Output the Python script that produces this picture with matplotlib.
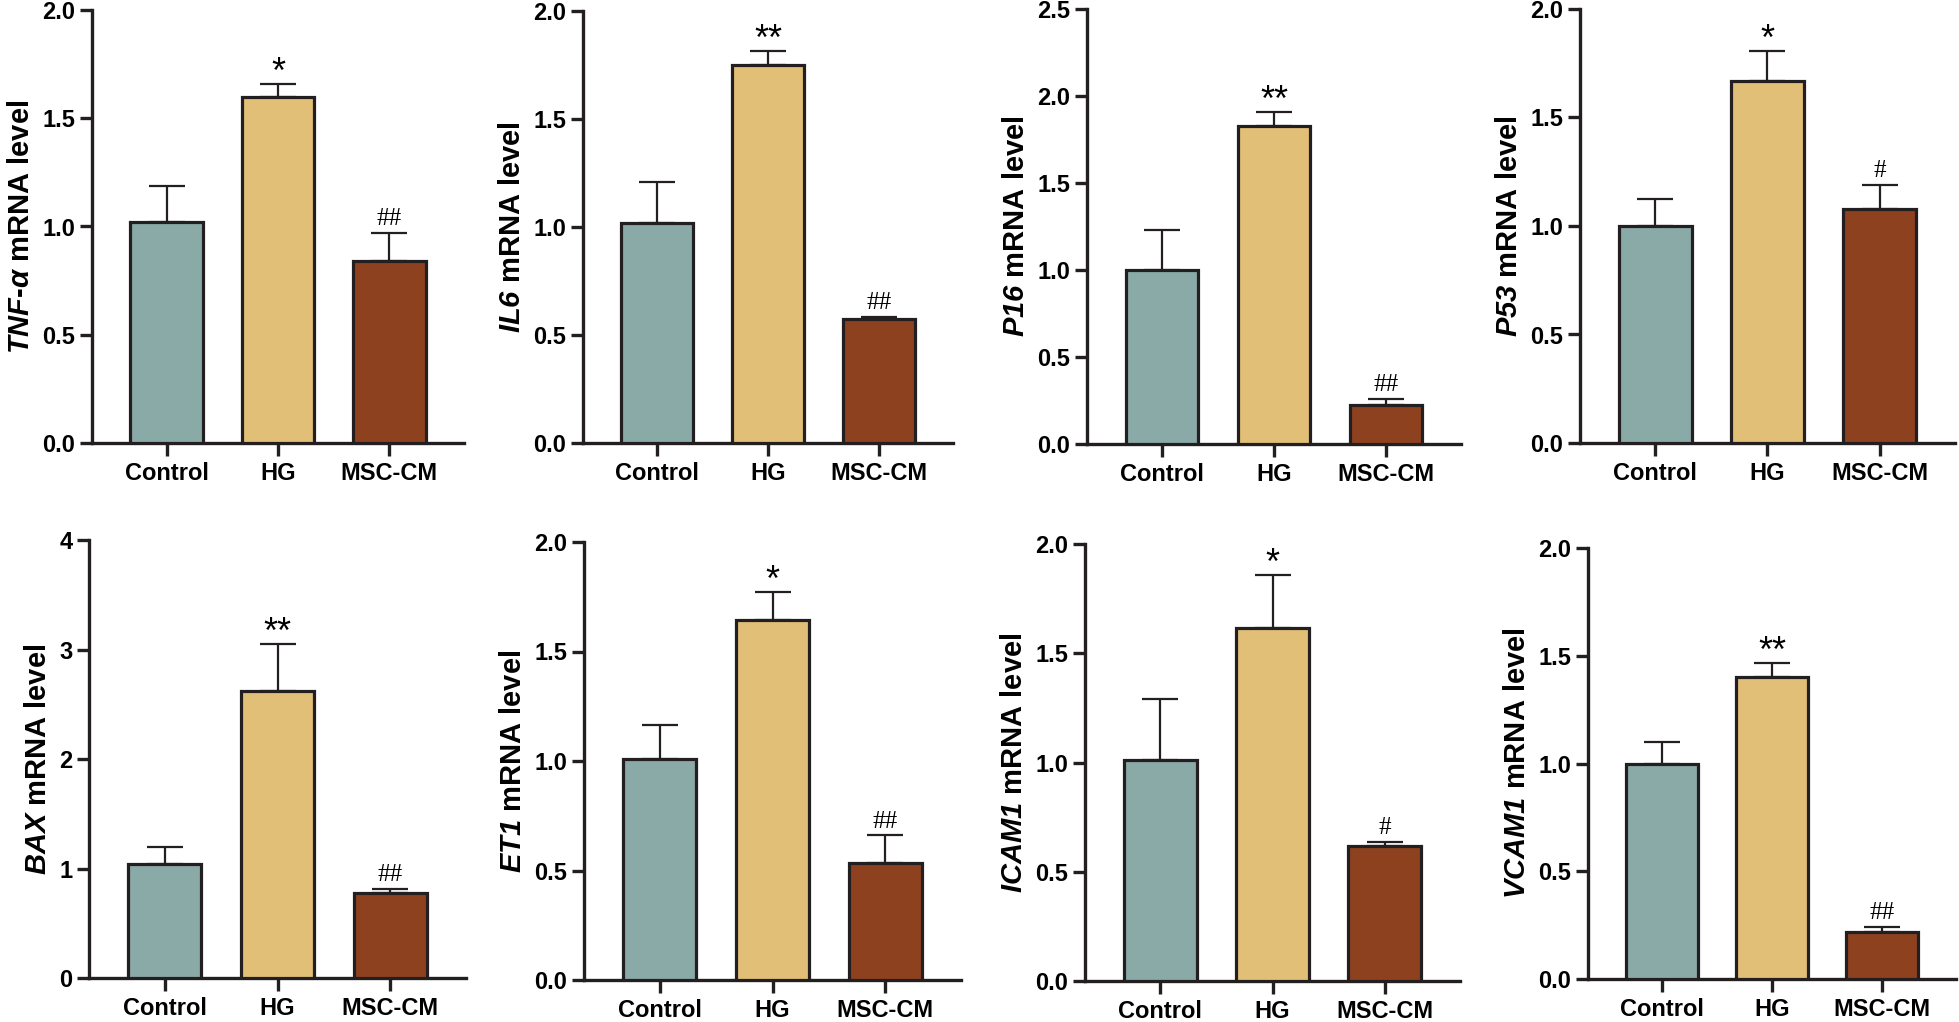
import matplotlib
matplotlib.use("Agg")
import matplotlib.pyplot as plt
from matplotlib.ticker import MultipleLocator, FormatStrFormatter

plt.rcParams['font.family'] = ['Liberation Sans', 'DejaVu Sans']
plt.rcParams['font.weight'] = 'bold'
plt.rcParams['mathtext.fontset'] = 'custom'
plt.rcParams['mathtext.it'] = 'Liberation Sans:italic:bold'
plt.rcParams['mathtext.rm'] = 'Liberation Sans:italic:bold'

groups = ['Control', 'HG', 'MSC-CM']
colors = ['#8aaaa8', '#e2bf77', '#8e411f']

genes = ['TNF-α', 'IL6', 'P16', 'P53', 'BAX', 'ET1', 'ICAM1', 'VCAM1']

# means (Control, HG, MSC-CM)
tnf_mean = [1.02, 1.60, 0.84]
il6_mean = [1.02, 1.75, 0.575]
p16_mean = [1.00, 1.83, 0.225]
p53_mean = [1.00, 1.67, 1.08]
bax_mean = [1.04, 2.62, 0.78]
et1_mean = [1.01, 1.645, 0.535]
icam1_mean = [1.01, 1.615, 0.62]
vcam1_mean = [1.00, 1.40, 0.218]

# upper error (SD) sizes
tnf_err = [0.165, 0.06, 0.13]
il6_err = [0.19, 0.065, 0.008]
p16_err = [0.23, 0.08, 0.035]
p53_err = [0.125, 0.135, 0.11]
bax_err = [0.16, 0.43, 0.035]
et1_err = [0.155, 0.125, 0.125]
icam1_err = [0.28, 0.245, 0.018]
vcam1_err = [0.10, 0.065, 0.024]

# significance marks (Control, HG, MSC-CM)
tnf_sig = ['', '*', '##']
il6_sig = ['', '**', '##']
p16_sig = ['', '**', '##']
p53_sig = ['', '*', '#']
bax_sig = ['', '**', '##']
et1_sig = ['', '*', '##']
icam1_sig = ['', '*', '#']
vcam1_sig = ['', '**', '##']

y_max = [2.0, 2.0, 2.5, 2.0, 4, 2.0, 2.0, 2.0]
y_step = [0.5, 0.5, 0.5, 0.5, 1, 0.5, 0.5, 0.5]

means = [tnf_mean, il6_mean, p16_mean, p53_mean, bax_mean, et1_mean, icam1_mean, vcam1_mean]
errs = [tnf_err, il6_err, p16_err, p53_err, bax_err, et1_err, icam1_err, vcam1_err]
sigs = [tnf_sig, il6_sig, p16_sig, p53_sig, bax_sig, et1_sig, icam1_sig, vcam1_sig]

W, H = 1959, 1022
# axes boxes in pixels: x0, x1, ytop, ybottom
boxes = [(92, 464, 10, 443), (583, 953, 11, 443), (1087, 1461, 9, 444), (1580, 1955, 9, 443),
         (89, 466, 540, 978), (584, 961, 542, 980), (1085, 1460, 544, 981), (1588, 1956, 548, 979)]

fig = plt.figure(figsize=(W / 100, H / 100), dpi=100)
edge = '#231f20'

for i in range(8):
    x0, x1, yt, yb = boxes[i]
    ax = fig.add_axes([x0 / W, 1 - yb / H, (x1 - x0) / W, (yb - yt) / H])
    xs = range(3)
    ax.bar(xs, means[i], width=0.65, color=colors, edgecolor=edge, linewidth=2.3, zorder=3)
    ax.errorbar(xs, means[i], yerr=[[0, 0, 0], errs[i]], fmt='none', ecolor=edge,
                elinewidth=1.6, capsize=13, capthick=1.6, zorder=2)
    for j in range(3):
        s = sigs[i][j]
        if s == '':
            continue
        top = means[i][j] + errs[i][j]
        if '*' in s:
            ax.annotate(s, (j, top), xytext=(0, -5), textcoords='offset points',
                        ha='center', va='bottom', fontsize=26, fontweight='normal')
        else:
            ax.annotate(s, (j, top), xytext=(0, 2), textcoords='offset points',
                        ha='center', va='bottom', fontsize=18, fontweight='normal',
                        family='Liberation Serif')
    ax.set_xlim(-0.67, 2.67)
    ax.set_ylim(0, y_max[i])
    ax.yaxis.set_major_locator(MultipleLocator(y_step[i]))
    if y_step[i] == 1:
        ax.yaxis.set_major_formatter(FormatStrFormatter('%d'))
    else:
        ax.yaxis.set_major_formatter(FormatStrFormatter('%.1f'))
    ax.set_xticks(list(xs))
    ax.set_xticklabels(groups)
    for side in ['top', 'right']:
        ax.spines[side].set_visible(False)
    for side in ['left', 'bottom']:
        ax.spines[side].set_linewidth(2.4)
        ax.spines[side].set_color(edge)
    ax.tick_params(axis='both', width=2.4, length=9, color=edge, labelsize=17)
    ax.tick_params(axis='y', pad=3)
    ax.tick_params(axis='x', pad=5)
    g = genes[i].replace('-', '}$-$\\mathit{')
    ax.set_ylabel('$\\mathit{' + g + '}$ mRNA level', fontsize=21, fontweight='bold', labelpad=5)

fig.savefig('out.png', dpi=100)
